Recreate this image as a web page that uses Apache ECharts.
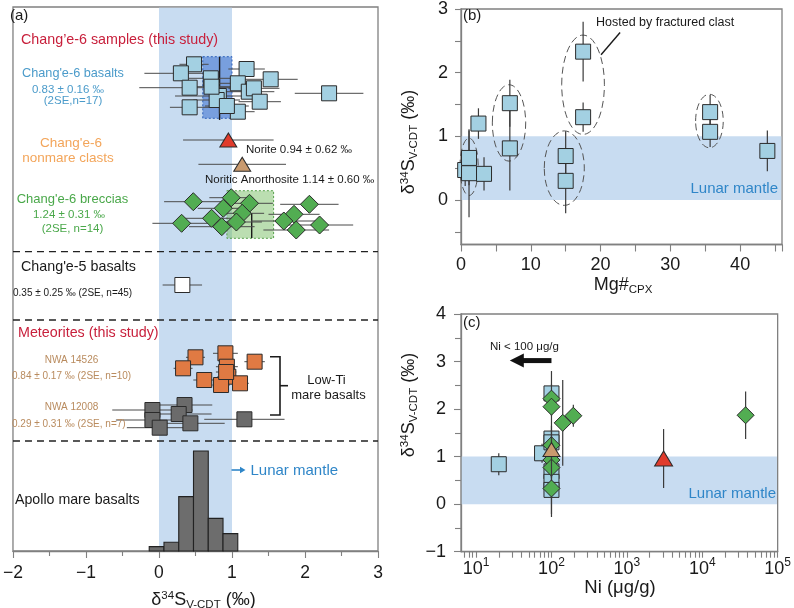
<!DOCTYPE html>
<html><head><meta charset="utf-8">
<script src="https://cdn.jsdelivr.net/npm/echarts@6/dist/echarts.min.js"></script>
<style>html,body{margin:0;padding:0;background:#fff}#c{width:794px;height:608px}</style>
</head><body><div id="c"></div>
<script>
const FONT = '"Liberation Sans", Arial, Helvetica, sans-serif';
const BAND = '#c8dcf1';
const AX = '#808080';
const INK = '#1a1a1a';
const BLUE_TXT = '#2f86c8';

// ================= Panel (a) data =================
const lunarMantle = [0, 1];                      // δ34S range (‰)
// Chang'e-6 basalts: δ34S, 2SE, row (arbitrary vertical jitter units)
const ce6BasaltD34S = [0.48,0.30,0.71,1.20,1.53,0.42,1.08,1.23,1.30,0.82,2.33,0.42,1.38,1.08,0.79,0.72,0.93];
const ce6BasaltErr  = [0.20,0.50,0.30,0.25,0.37,0.69,0.30,0.35,0.35,0.60,0.47,0.27,0.29,0.23,0.32,0.40,0.30];
const ce6BasaltRow  = [486.7,477.7,472.7,482,471.7,463.3,467.7,459.3,462.7,455,457.7,443.7,449.3,439.3,451,464.3,445];
const ce6BasaltBox  = [0.60, 1.00, 432.7, 494.3, 0.83, 431, 494];   // xLo,xHi,rowLo,rowHi,mean,meanRowLo,meanRowHi
// Non-mare clasts
const noriteD34S = [0.95], noriteErr = [0.62], noriteRow = [411];
const noriticAnD34S = [1.14], noriticAnErr = [0.60], noriticAnRow = [386.7];
// Chang'e-6 breccias
const ce6BrecciaD34S = [0.47,0.31,0.99,0.88,1.24,1.14,0.72,0.86,2.06,1.85,1.71,1.88,2.20,1.06];
const ce6BrecciaErr  = [0.40,0.40,0.30,0.35,0.32,0.30,0.40,0.45,0.40,0.35,0.45,0.45,0.46,0.35];
const ce6BrecciaRow  = [349.3,327.7,353.3,342.7,347.7,337.7,332.7,324.3,346.7,336.7,330,321,326,329];
const ce6BrecciaBox  = [0.93, 1.57, 312.7, 360.3, 1.27, 313, 338];
// Chang'e-5 basalts
const ce5D34S = [0.32], ce5Err = [0.27], ce5Row = [266];
// Meteorites
const nwa14526D34S = [0.50,0.33,0.91,1.31,0.93,0.62,0.95,0.85,1.11,0.92];
const nwa14526Err  = [0.13,0.13,0.17,0.14,0.15,0.15,0.15,0.12,0.12,0.14];
const nwa14526Row  = [193.7,182.7,197.7,189.3,184.3,171,174.3,166,167.7,179];
const nwa12008D34S = [-0.09,0.35,0.27,-0.09,0.43,0.01,1.17];
const nwa12008Err  = [0.55,0.38,0.45,0.50,0.47,0.45,0.55];
const nwa12008Row  = [141,146,137,131,127.7,123.3,131.7];
// group separators (rows)
const separatorRows = [299.3, 231, 110];
// Apollo mare basalts histogram: bin edges and counts
const apolloBinEdges = [-0.1, 0.1, 0.3, 0.5, 0.7, 0.9, 1.1];
const apolloCounts   = [2, 4, 25, 46, 15, 8];

// ================= Panel (b) data =================
const mgCpx     = [0.6, 1.15, 1.15, 3.3, 2.5, 7.0, 7.0, 15.0, 15.0, 17.5, 17.5, 35.7, 35.7, 43.9];
const mgD34S    = [0.47, 0.66, 0.42, 0.41, 1.20, 1.52, 0.81, 0.69, 0.30, 2.33, 1.30, 1.38, 1.07, 0.77];
const mgErr     = [0.25, 0.43, 0.69, 0.26, 0.24, 0.37, 0.66, 0.39, 0.51, 0.47, 0.23, 0.27, 0.24, 0.32];
// dashed groupings: centre Mg#, centre δ34S, half-width (Mg#), half-height (‰)
const groupEllipses = [[1.16,0.52,1.31,0.45],[6.88,1.21,2.39,0.60],[14.8,0.50,2.87,0.585],[17.49,1.81,3.06,0.78],[35.6,1.24,1.98,0.42]];
const leaderLine = [[20.07, 2.28, 22.8, 2.63]];
const mgTicks = [-0.5,0,0.5,1,1.5,2,2.5,3];
const mgLabels = [0,1,2,3];

// ================= Panel (c) data =================
const niBasalt      = [20, 75, 100, 100, 100, 100, 100, 100];
const niBasaltD34S  = [0.84, 1.07, 2.33, 1.38, 1.30, 0.69, 0.47, 0.30];
const niBasaltErr   = [0.23, 0.20, 0.47, 0.27, 0.23, 0.39, 0.25, 0.51];
const niBreccia     = [100, 100, 100, 100, 100, 100, 141, 195, 37600];
const niBrecciaD34S = [2.22, 2.05, 1.24, 0.93, 0.77, 0.33, 1.71, 1.86, 1.87];
const niBrecciaErr  = [0.30, 0.30, 0.32, 0.35, 0.40, 0.60, 0.90, 0.23, 0.50];
const niNoriticAn = [100],  niNoriticAnD34S = [1.15], niNoriticAnErr = [0.60];
const niNorite    = [3070], niNoriteD34S    = [0.96], niNoriteErr    = [0.62];
const niArrow = [[100, 28, 3.02]];   // from Ni, to Ni, δ34S
const niTickValues = [7,8,9,10,20,30,40,50,60,70,80,90,100,200,300,400,500,600,700,800,900,
  1000,2000,3000,4000,5000,6000,7000,8000,9000,10000,20000,30000,40000,50000,60000,70000,80000,90000,100000];
const niLabelExponents = [1,2,3,4,5];

// ================= helpers =================
const lg = v => Math.log10(v);
const minus = v => (v < 0 ? '\u2212' + Math.abs(v) : String(v));

function bandV(xi, yi, range, z) {
  return {type:'custom', xAxisIndex:xi, yAxisIndex:yi, silent:true, z, clip:false,
    data:[range], renderItem(params, api){
      const cs = params.coordSys;
      const a = api.coord([api.value(0), 0]), b = api.coord([api.value(1), 0]);
      return {type:'rect', shape:{x:a[0], y:cs.y+0.7, width:b[0]-a[0], height:cs.height-0.7}, style:{fill:BAND}};
    }};
}
function bandH(xi, yi, range, xref, z) {
  return {type:'custom', xAxisIndex:xi, yAxisIndex:yi, silent:true, z, clip:false,
    data:[range], renderItem(params, api){
      const cs = params.coordSys;
      const a = api.coord([xref, api.value(1)]), b = api.coord([xref, api.value(0)]);
      return {type:'rect', shape:{x:cs.x+0.7, y:a[1], width:cs.width-1.4, height:b[1]-a[1]}, style:{fill:BAND}};
    }};
}
function errSeries(xi, yi, xs, ys, es, dir, z, color, width) {
  return {type:'custom', xAxisIndex:xi, yAxisIndex:yi, silent:true, z, clip:false,
    data: xs.map((x,i)=>[x, ys[i], es[i]]),
    renderItem(params, api){
      const x = api.value(0), y = api.value(1), e = api.value(2);
      const a = dir==='h' ? api.coord([x-e, y]) : api.coord([x, y-e]);
      const b = dir==='h' ? api.coord([x+e, y]) : api.coord([x, y+e]);
      return {type:'line', shape:{x1:a[0],y1:a[1],x2:b[0],y2:b[1]}, style:{stroke:color||'#4a4a4a', lineWidth:width||1}};
    }};
}
function marks(xi, yi, xs, ys, symbol, size, color, z) {
  return {type:'scatter', xAxisIndex:xi, yAxisIndex:yi, silent:true, z, symbol, symbolSize:size,
    data: xs.map((x,i)=>[x, ys[i]]),
    itemStyle:{color, borderColor:'#2b2b2b', borderWidth:1, opacity:1}};
}
const boxStyles = [{fill:'rgba(55,110,205,0.55)', stroke:'#2c5fb8'}, {fill:'rgba(120,190,100,0.5)', stroke:'#55a04a'}];
function meanBoxes(xi, yi, boxes, z) {
  return {type:'custom', xAxisIndex:xi, yAxisIndex:yi, silent:true, z, clip:false, data: boxes,
    renderItem(params, api){
      const v = i => api.value(i);
      const p0 = api.coord([v(0), v(3)]), p1 = api.coord([v(1), v(2)]);
      const q0 = api.coord([v(4), v(6)]), q1 = api.coord([v(4), v(5)]);
      const st = boxStyles[params.dataIndex];
      return {type:'group', children:[
        {type:'rect', shape:{x:p0[0], y:p0[1], width:p1[0]-p0[0], height:p1[1]-p0[1]}, style:{fill:st.fill, stroke:st.stroke, lineWidth:1, lineDash:[2,2]}},
        {type:'line', shape:{x1:q0[0], y1:q0[1], x2:q1[0], y2:q1[1]}, style:{stroke:'#1a1a1a', lineWidth:1.4}}
      ]};
    }};
}

const RICH_G = {
  sup:{fontSize:11.5, lineHeight:11, verticalAlign:'top', fontFamily:FONT, fill:INK},
  sub:{fontSize:11.5, lineHeight:11, verticalAlign:'bottom', fontFamily:FONT, fill:INK}
};
function T(x, y, text, size, color, align, extra) {
  const el = {type:'text', x, y, z:100, silent:true,
    style:{text, fontSize:size, fontFamily:FONT, fill:color||INK, align:align||'left', verticalAlign:'middle',
           textAlign:align||'left', textVerticalAlign:'middle'}};
  if (extra) {
    if (extra.rich) { el.style.rich = extra.rich; el.style.lineHeight = 21; }
    if (extra.rotation) el.rotation = extra.rotation;
  }
  return el;
}
const D34 = 'δ{sup|34}S{sub|V-CDT} (‰)';

const chart = echarts.init(document.getElementById('c'), null, {renderer:'canvas'});
const axisCommon = {
  axisLine:{show:true, onZero:false, lineStyle:{color:AX, width:1.3}},
  axisTick:{show:true, length:7, lineStyle:{color:AX, width:1.1}},
  splitLine:{show:false}, minorSplitLine:{show:false}
};
const lab = (extra) => Object.assign({fontSize:18, color:INK, fontFamily:FONT}, extra);

const option = {
  animation:false,
  backgroundColor:'#fff',
  textStyle:{fontFamily:FONT},
  grid:[
    {left:9, top:7, width:369, height:544, show:true, borderColor:AX, borderWidth:1.3, backgroundColor:'transparent'},
    {left:9, top:441, width:369, height:110},
    {left:461, top:7, width:321, height:237.5, show:true, borderColor:AX, borderWidth:1.3, backgroundColor:'transparent'},
    {left:461, top:314, width:320, height:237.7, show:true, borderColor:AX, borderWidth:1.3, backgroundColor:'transparent'}
  ],
  xAxis:[
    Object.assign({gridIndex:0, type:'value', min:-2, max:3, interval:1,
      minorTick:{show:true, splitNumber:2, length:5, lineStyle:{color:AX, width:1.1}},
      axisLabel:lab({fontSize:17.5, margin:13, formatter:minus})}, axisCommon),
    {gridIndex:1, type:'value', min:-2, max:3, show:false},
    Object.assign({gridIndex:2, type:'value', min:0, max:46, interval:5,
      axisLabel:lab({margin:12, formatter: v => (v % 10 === 0 ? String(v) : '')})}, axisCommon),
    Object.assign({}, axisCommon, {gridIndex:3, type:'value', min:0.8, max:5,
      axisTick:{show:true, length:6, customValues: niTickValues.map(lg), lineStyle:{color:AX, width:1.1}},
      axisLabel:lab({margin:5, customValues: niLabelExponents, formatter: v => '{b|10}{sup|' + Math.round(v) + '}',
        rich:{b:{fontSize:18, lineHeight:24, color:INK, fontFamily:FONT}, sup:{fontSize:12, lineHeight:12, verticalAlign:'top', color:INK, fontFamily:FONT}}})})
  ],
  yAxis:[
    {gridIndex:0, type:'value', min:0, max:544, show:false},
    {gridIndex:1, type:'value', min:0, max:50.6, show:false},
    Object.assign({}, axisCommon, {gridIndex:2, type:'value', min:-0.7, max:3,
      axisTick:{show:true, length:6, customValues: mgTicks, lineStyle:{color:AX, width:1.1}},
      axisLabel:lab({margin:13, customValues: mgLabels})}),
    Object.assign({gridIndex:3, type:'value', min:-1, max:4, interval:1,
      minorTick:{show:true, splitNumber:2, length:6, lineStyle:{color:AX, width:1.1}},
      axisLabel:lab({margin:15, formatter:minus})}, axisCommon)
  ],
  series:[
    // ----- (a) -----
    bandV(0, 0, lunarMantle, 1),
    {type:'custom', xAxisIndex:0, yAxisIndex:0, silent:true, z:3, clip:false, data: separatorRows.map(r=>[0, r]),
      renderItem(params, api){ const cs = params.coordSys; const y = api.coord([0, api.value(1)])[1];
        return {type:'line', shape:{x1:cs.x, y1:y, x2:cs.x+cs.width, y2:y}, style:{stroke:'#222', lineWidth:1.3, lineDash:[7,5]}}; }},
    meanBoxes(0, 0, [ce6BasaltBox, ce6BrecciaBox], 2),
    errSeries(0, 0, ce6BasaltD34S, ce6BasaltRow, ce6BasaltErr, 'h', 3),
    marks(0, 0, ce6BasaltD34S, ce6BasaltRow, 'rect', 15, '#a3d0e2', 4),
    errSeries(0, 0, noriteD34S, noriteRow, noriteErr, 'h', 3),
    marks(0, 0, noriteD34S, noriteRow, 'triangle', [17,14], '#e03b2c', 4),
    errSeries(0, 0, noriticAnD34S, noriticAnRow, noriticAnErr, 'h', 3),
    marks(0, 0, noriticAnD34S, noriticAnRow, 'triangle', [17,14], '#c99a6e', 4),
    errSeries(0, 0, ce6BrecciaD34S, ce6BrecciaRow, ce6BrecciaErr, 'h', 3),
    marks(0, 0, ce6BrecciaD34S, ce6BrecciaRow, 'diamond', 18, '#52ad52', 4),
    errSeries(0, 0, ce5D34S, ce5Row, ce5Err, 'h', 3),
    marks(0, 0, ce5D34S, ce5Row, 'rect', 15, '#ffffff', 4),
    errSeries(0, 0, nwa14526D34S, nwa14526Row, nwa14526Err, 'h', 3),
    marks(0, 0, nwa14526D34S, nwa14526Row, 'rect', 15, '#e07a43', 4),
    errSeries(0, 0, nwa12008D34S, nwa12008Row, nwa12008Err, 'h', 3),
    marks(0, 0, nwa12008D34S, nwa12008Row, 'rect', 15, '#6b6b6b', 4),
    {type:'custom', xAxisIndex:1, yAxisIndex:1, silent:true, z:5, clip:false,
      data: apolloCounts.map((c,i)=>[apolloBinEdges[i], apolloBinEdges[i+1], c]),
      renderItem(params, api){ const a = api.coord([api.value(0), api.value(2)]), b = api.coord([api.value(1), 0]);
        return {type:'rect', shape:{x:a[0], y:a[1], width:b[0]-a[0], height:b[1]-a[1]}, style:{fill:'#6d6d6d', stroke:'#222', lineWidth:1.1}}; }},
    // ----- (b) -----
    bandH(2, 2, lunarMantle, 10, 1),
    {type:'custom', xAxisIndex:2, yAxisIndex:2, silent:true, z:3, clip:false, data: groupEllipses,
      renderItem(params, api){ const c = api.coord([api.value(0), api.value(1)]);
        const rx = api.size([api.value(2), 0])[0], ry = api.size([0, api.value(3)])[1];
        return {type:'ellipse', shape:{cx:c[0], cy:c[1], rx, ry}, style:{fill:'none', stroke:'#555', lineWidth:1, lineDash:[7,4]}}; }},
    {type:'custom', xAxisIndex:2, yAxisIndex:2, silent:true, z:3, clip:false, data: leaderLine,
      renderItem(params, api){ const a = api.coord([api.value(0), api.value(1)]), b = api.coord([api.value(2), api.value(3)]);
        return {type:'line', shape:{x1:a[0], y1:a[1], x2:b[0], y2:b[1]}, style:{stroke:'#1a1a1a', lineWidth:1.4}}; }},
    errSeries(2, 2, mgCpx, mgD34S, mgErr, 'v', 3, '#3a3a3a', 1.2),
    marks(2, 2, mgCpx, mgD34S, 'rect', 15, '#a3d0e2', 4),
    // ----- (c) -----
    bandH(3, 3, lunarMantle, 2, 1),
    errSeries(3, 3, niBasalt.map(lg), niBasaltD34S, niBasaltErr, 'v', 3, '#3a3a3a', 1.2),
    marks(3, 3, niBasalt.map(lg), niBasaltD34S, 'rect', 15, '#a3d0e2', 4),
    errSeries(3, 3, niBreccia.map(lg), niBrecciaD34S, niBrecciaErr, 'v', 5, '#3a3a3a', 1.2),
    marks(3, 3, niBreccia.map(lg), niBrecciaD34S, 'diamond', 17, '#52ad52', 6),
    errSeries(3, 3, niNoriticAn.map(lg), niNoriticAnD34S, niNoriticAnErr, 'v', 7, '#3a3a3a', 1.2),
    marks(3, 3, niNoriticAn.map(lg), niNoriticAnD34S, 'triangle', [17,14], '#c99a6e', 8),
    errSeries(3, 3, niNorite.map(lg), niNoriteD34S, niNoriteErr, 'v', 7, '#3a3a3a', 1.2),
    marks(3, 3, niNorite.map(lg), niNoriteD34S, 'triangle', [18,15], '#e03b2c', 8),
    {type:'custom', xAxisIndex:3, yAxisIndex:3, silent:true, z:9, clip:false,
      data: niArrow.map(a => [lg(a[0]), lg(a[1]), a[2]]),
      renderItem(params, api){ const s = api.coord([api.value(0), api.value(2)]), t = api.coord([api.value(1), api.value(2)]);
        const head = 14, hw = 7;
        return {type:'group', children:[
          {type:'line', shape:{x1:s[0], y1:s[1], x2:t[0]+head-1, y2:t[1]}, style:{stroke:'#111', lineWidth:5}},
          {type:'polygon', shape:{points:[[t[0], t[1]], [t[0]+head, t[1]-hw], [t[0]+head, t[1]+hw]]}, style:{fill:'#111'}}
        ]}; }}
  ],
  graphic:{elements:[
    // (a)
    T(10, 16, '(a)', 15),
    T(21, 40, 'Chang\u2019e-6 samples (this study)', 14.3, '#c8203c'),
    T(73, 73.5, "Chang'e-6 basalts", 12.7, '#4b9bca', 'center'),
    T(68, 89.5, '0.83 \u00b1 0.16 \u2030', 11.5, '#4b9bca', 'center'),
    T(73, 100.5, '(2SE,n=17)', 11.5, '#4b9bca', 'center'),
    T(71, 143.5, "Chang'e-6", 13.5, '#f3a55a', 'center'),
    T(68, 158.5, 'nonmare clasts', 13.5, '#f3a55a', 'center'),
    T(72.5, 199.5, "Chang'e-6 breccias", 13, '#4aa84a', 'center'),
    T(69, 215, '1.24 \u00b1 0.31 \u2030', 11.5, '#4aa84a', 'center'),
    T(72.5, 228.7, '(2SE, n=14)', 11.5, '#4aa84a', 'center'),
    T(246, 150, 'Norite 0.94 \u00b1 0.62 \u2030', 11.5),
    T(205, 179.5, 'Noritic Anorthosite 1.14 \u00b1 0.60 \u2030', 11.5),
    T(21, 267, "Chang'e-5 basalts", 14.3),
    T(13, 293.5, '0.35 \u00b1 0.25 \u2030 (2SE, n=45)', 10),
    T(18, 333.5, 'Meteorites (this study)', 14.3, '#c8203c'),
    T(71.5, 360, 'NWA 14526', 10, '#b98b5e', 'center'),
    T(12, 376.5, '0.84 \u00b1 0.17 \u2030 (2SE, n=10)', 10, '#b98b5e'),
    T(71.5, 407.5, 'NWA 12008', 10, '#b98b5e', 'center'),
    T(12, 424, '0.29 \u00b1 0.31 \u2030 (2SE, n=7)', 10, '#b98b5e'),
    T(326.5, 380, 'Low-Ti', 13, INK, 'center'),
    T(328.5, 395.5, 'mare basalts', 13, INK, 'center'),
    T(15, 500, 'Apollo mare basalts', 14.2),
    {type:'line', z:100, silent:true, shape:{x1:231.5, y1:470, x2:241, y2:470}, style:{stroke:BLUE_TXT, lineWidth:1.6}},
    {type:'polygon', z:100, silent:true, shape:{points:[[245.5,470],[240,466.8],[240,473.2]]}, style:{fill:BLUE_TXT}},
    T(250.5, 470.5, 'Lunar mantle', 15, BLUE_TXT),
    T(203.5, 600, D34, 18, INK, 'center', {rich:RICH_G}),
    {type:'polyline', z:100, silent:true, shape:{points:[[270,356.7],[280,356.7],[280,415],[270,415]]}, style:{stroke:INK, lineWidth:1.6, fill:'none'}},
    {type:'line', z:100, silent:true, shape:{x1:280, y1:385.7, x2:288, y2:385.7}, style:{stroke:INK, lineWidth:1.6}},
    // (b)
    T(463, 16, '(b)', 15),
    T(596, 23, 'Hosted by fractured clast', 12.5),
    T(778, 189, 'Lunar mantle', 15, BLUE_TXT, 'right'),
    T(623, 285, 'Mg#{sub|CPX}', 18, INK, 'center', {rich:RICH_G}),
    T(409, 142, D34, 18, INK, 'center', {rich:RICH_G, rotation:Math.PI/2}),
    // (c)
    T(463, 323, '(c)', 15),
    T(490, 347, 'Ni < 100 \u03bcg/g', 11.5),
    T(776, 494, 'Lunar mantle', 15, BLUE_TXT, 'right'),
    T(620, 588, 'Ni (\u03bcg/g)', 18.5, INK, 'center'),
    T(409, 405, D34, 18, INK, 'center', {rich:RICH_G, rotation:Math.PI/2})
  ]}
};
chart.setOption(option);
</script></body></html>
